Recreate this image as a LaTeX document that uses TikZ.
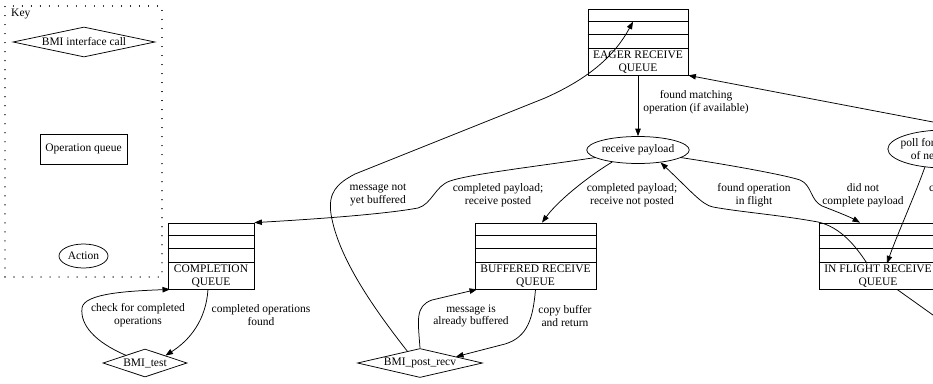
\documentclass[tikz,border=0pt]{standalone}
\usepackage{fontspec}
\setmainfont{Liberation Serif}
\usetikzlibrary{shapes.geometric,arrows.meta}

% an operation queue: a record of three empty slots above a labelled field
% #1 name, #2 centre x, #3 centre y, #4 width, #5 label
\newcommand\opqueue[5]{%
  \node[qbox, minimum width=#4] (#1) at (#2,#3) {};
  \foreach \d in {13,26,40}
    \draw[conn] ([yshift=-\d pt]#1.north west) -- ([yshift=-\d pt]#1.north east);
  \node[qlabel] (#1-lbl) at ([yshift=13pt]#1.south) {#5};
}

\begin{document}
\begin{tikzpicture}[x=1pt,y=-1pt,
  every node/.style={font=\fontsize{11.5}{12.8}\selectfont, inner sep=0pt},
  conn/.style={line width=0.75pt},
  arr/.style={conn, -{Triangle[length=7.5pt,width=5.5pt]}},
  qbox/.style={draw, line width=0.75pt, rectangle, minimum height=66pt},
  qlabel/.style={align=center},
  act/.style={draw, ellipse, line width=0.75pt, align=center},
  call/.style={draw, diamond, line width=0.75pt},
  opbox/.style={draw, rectangle, line width=0.75pt},
  edgelbl/.style={align=center},
  keybox/.style={draw, rectangle, line width=1.1pt, line cap=round,
                 dash pattern=on 0.01pt off 9pt}
]
\useasboundingbox[fill=white] (0,0) rectangle (933,383);

% ---- legend ----
\node[keybox, minimum width=157pt, minimum height=271pt] (key) at (83.5,141.5) {};
\node[anchor=west] (keytitle) at (11,14) {Key};
\node[call, shape aspect=5, minimum width=142pt, minimum height=30pt] (callkey) at (84,42) {BMI interface call};
\node[opbox, minimum width=87pt, minimum height=30pt] (opq) at (83.5,149) {Operation queue};
\node[act, minimum width=49pt, minimum height=24pt] (action) at (83.5,256) {Action};

% ---- queues ----
\opqueue{eager}{638}{42}{100}{EAGER RECEIVE\\QUEUE}
\opqueue{completion}{211}{256}{86}{COMPLETION\\QUEUE}
\opqueue{buffered}{535.5}{256}{121}{BUFFERED RECEIVE\\QUEUE}
\opqueue{inflight}{878}{256}{118}{IN FLIGHT RECEIVE\\QUEUE}

% ---- actions ----
\node[act, minimum width=90pt, minimum height=27pt] (recv) at (638,150) {receive payload};
\node[act, inner xsep=-4pt, minimum width=110pt, minimum height=38pt] (poll) at (945,149) {poll for completion\\of network I/O};

% ---- interface calls ----
\node[call, shape aspect=3, minimum width=84pt, minimum height=28pt] (test) at (145,363) {BMI\_test};
\node[call, shape aspect=4, minimum width=125pt, minimum height=29pt] (post) at (420,363) {BMI\_post\_recv};

% ---- off-page ends ----
\coordinate (offR) at (975,130);
\coordinate (offB) at (975,345);

% ---- connectors ----
\draw[arr] (eager.south) -- (recv.north);
\node[edgelbl] (l1) at (696,102) {found matching\\operation (if available)};

\draw[arr] (recv.190) .. controls (540,166) and (470,174) .. (450,181)
  .. controls (435,186) and (432,204) .. (418,208)
  .. controls (380,215) and (300,220) .. (completion.north east);
\node[edgelbl] (l2) at (498,195) {completed payload;\\receive posted};

\draw[arr] (recv.205) .. controls (595,172) and (560,198) .. ([xshift=6.5pt]buffered.north);
\node[edgelbl] (l3) at (632,195) {completed payload;\\receive not posted};

\draw[arr] ([xshift=-11pt,yshift=26pt]inflight.south) .. controls (855,245) and (840,227) .. (818,222)
  .. controls (780,215) and (740,212) .. (713,207)
  .. controls (702,205) and (690,190) .. (recv.331);
\node[edgelbl] (l4) at (754,195) {found operation\\in flight};

\draw[arr] (recv.350) .. controls (730,165) and (785,175) .. (800,180)
  .. controls (812,185) and (810,200) .. (822,206)
  .. controls (835,211) and (850,217) .. ([xshift=-18pt]inflight.north);
\node[edgelbl] (l5) at (863,195) {did not\\complete payload};

\draw[arr] (poll.222) .. controls (915,195) and (897,235) .. ([xshift=9pt,yshift=26pt]inflight.south);
\node[edgelbl, anchor=west] (l6) at (929,195) {completed\\payload};

\draw[arr] (offR) -- (eager.south east);
\draw[conn] ([xshift=19pt]inflight.south) -- (offB);

\draw[arr] (post.137) .. controls (375,310) and (338,258) .. (331,214)
  .. controls (328,193) and (336,184) .. (355,174) -- (545,98)
  .. controls (590,78) and (615,55) .. ([xshift=-5pt,yshift=-13pt]eager.north);
\node[edgelbl] (l7) at (378,195) {message not\\yet buffered};

\draw[arr] ([xshift=-3pt]completion.south) .. controls (206,320) and (190,340) .. (test.20);
\node[edgelbl] (l8) at (261,315) {completed operations\\found};

\draw[arr] (test.158) .. controls (95,342) and (80,325) .. (82,308)
  .. controls (84,293) and (130,291) .. ([xshift=-41pt]completion.south);
\node[edgelbl] (l9) at (138,315) {check for completed\\operations};

\draw[arr] (post.north) .. controls (418,320) and (415,306) .. (432,300) -- ([xshift=-58.5pt]buffered.south);
\node[edgelbl] (l10) at (471,316) {message is\\already buffered};

\draw[arr] (buffered.south) .. controls (533,318) and (528,337) .. (505,344) -- (post.10);
\node[edgelbl] (l11) at (565,316) {copy buffer\\and return};
\end{tikzpicture}
\end{document}
